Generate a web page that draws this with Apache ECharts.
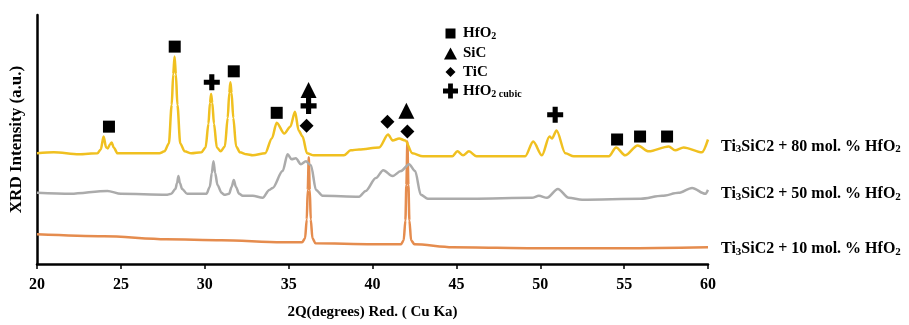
<!DOCTYPE html>
<html>
<head>
<meta charset="utf-8">
<script src="https://cdn.jsdelivr.net/npm/echarts@6/dist/echarts.min.js"></script>
<style>
  html, body { margin: 0; padding: 0; background: #fff; }
  #chart { width: 909px; height: 325px; }
</style>
</head>
<body>
<div id="chart"></div>
<script>
// 2θ ticks
const xTicks = [20, 25, 30, 35, 40, 45, 50, 55, 60];

// Ti3SiC2 + 80 mol.% HfO2  [2θ, intensity]
const hfo80 = [
  [20, 112], [21, 113], [22.5, 111], [23.6, 112], [23.8, 116], [23.97, 129], [24.12, 118], [24.22, 117],
  [24.35, 121], [24.45, 123], [24.57, 118], [24.8, 112],
  [26, 112], [27.3, 112], [27.6, 114], [27.86, 122], [28.03, 161], [28.12, 192], [28.2, 210], [28.28, 192],
  [28.37, 161], [28.54, 122], [28.8, 114], [29.2, 112],
  [29.8, 113], [30.05, 118], [30.22, 142], [30.31, 163], [30.38, 172], [30.45, 163], [30.55, 142], [30.72, 118],
  [30.95, 114], [31.2, 119], [31.37, 148], [31.46, 173], [31.53, 184], [31.6, 173], [31.7, 148], [31.87, 119],
  [32.1, 113], [32.5, 111], [32.86, 110], [33.6, 112], [34.0, 127], [34.29, 143], [34.74, 132],
  [35.1, 139], [35.38, 154], [35.6, 135], [35.83, 129], [36.1, 112], [36.5, 110], [38.3, 110], [38.7, 115],
  [39.2, 116], [40.4, 118], [40.93, 131], [41.2, 125], [41.59, 127], [41.95, 125], [42.38, 112], [43, 109],
  [44.76, 109], [45.06, 114], [45.4, 110], [45.75, 114], [46.2, 109], [49.1, 109], [49.58, 124], [50.1, 110],
  [50.55, 129], [50.7, 127], [50.97, 135], [51.5, 112], [52, 109], [54.09, 109], [54.52, 118], [55.06, 110],
  [55.81, 120], [56.47, 114], [57.66, 119], [58.04, 115], [58.55, 118], [59.64, 113], [60, 126]
];

// Ti3SiC2 + 50 mol.% HfO2
const hfo50 = [
  [20, 72], [22, 71], [24.2, 74], [25, 71], [27.7, 70], [28.0, 71], [28.25, 76], [28.35, 82], [28.43, 89],
  [28.52, 82], [28.65, 76], [28.95, 71], [30.1, 71], [30.3, 78], [30.42, 92], [30.52, 104], [30.62, 92],
  [30.76, 80], [31.0, 72], [31.17, 70], [31.45, 71], [31.6, 78], [31.73, 85], [31.86, 78], [32.05, 71],
  [32.26, 69], [32.86, 69], [33.45, 67], [33.85, 75], [34.05, 77], [34.64, 94], [34.94, 111], [35.18, 106],
  [35.43, 107], [35.73, 101], [36.03, 104], [36.33, 100], [36.63, 75], [37.02, 69], [39.2, 68], [39.6, 74],
  [40.2, 87], [40.64, 95], [41.19, 89], [41.69, 94], [42.18, 101], [42.54, 94], [42.88, 70], [43.3, 66],
  [45.95, 66], [49.5, 67], [49.92, 69], [50.4, 67], [51.05, 76], [51.7, 67], [52.5, 65], [56, 66],
  [57.26, 69], [58.25, 72], [59.05, 77], [59.84, 71], [60, 75]
];

// Ti3SiC2 + 10 mol.% HfO2
const hfo10 = [
  [20, 30], [24, 28], [27.7, 25], [31, 24], [34.6, 22], [35.8, 22], [35.98, 26], [36.08, 45], [36.14, 75],
  [36.2, 108], [36.26, 75], [36.32, 45], [36.42, 26], [36.6, 21], [40, 20], [41.7, 20], [41.86, 24],
  [41.96, 44], [42.02, 80], [42.08, 124], [42.14, 80], [42.2, 44], [42.3, 24], [42.5, 20], [44.76, 17],
  [50, 16], [55, 16], [60, 17]
];

// phase markers [2θ, height]
const hfo2Marks = [[24.29, 139], [28.21, 220], [31.73, 195], [34.29, 153], [54.58, 126], [55.95, 129], [57.56, 129]];
const sicMarks = [[36.19, 176], [42.02, 155]];
const ticMarks = [[36.07, 140], [40.89, 144], [42.08, 134]];
const cubicMarks = [[30.42, 184], [36.19, 160], [50.89, 151]];

const serif = '"Liberation Serif", "Times New Roman", serif';
const crossPath = 'path://M3.4,0 H6.6 V3.4 H10 V6.6 H6.6 V10 H3.4 V6.6 H0 V3.4 H3.4 Z';

const subRich = {
  a: { fontFamily: serif, fontSize: 16, fontWeight: 'bold', color: '#000' },
  s: { fontFamily: serif, fontSize: 11, fontWeight: 'bold', color: '#000', padding: [6, 0, 0, 0] }
};

function lineSeries(name, data, color, label, dy) {
  return {
    name: name,
    type: 'line',
    data: data,
    showSymbol: false,
    smooth: 0.3,
    smoothMonotone: 'x',
    lineStyle: { color: color, width: 2.5 },
    itemStyle: { color: color },
    endLabel: {
      show: true,
      formatter: label,
      offset: [5, dy],
      rich: subRich
    },
    z: 2
  };
}

function markSeries(name, data, symbol, size) {
  return {
    name: name,
    type: 'scatter',
    data: data,
    symbol: symbol,
    symbolSize: size,
    itemStyle: { color: '#000', opacity: 1 },
    z: 5
  };
}

const chart = echarts.init(document.getElementById('chart'));
chart.setOption({
  animation: false,
  backgroundColor: '#fff',
  grid: { left: 34, right: 201, top: 15, bottom: 58 },
  legend: {
    orient: 'vertical',
    left: 438,
    top: 21,
    itemGap: 4,
    itemWidth: 15,
    itemHeight: 15,
    data: [
      { name: 'HfO2', icon: 'path://M0,0 M2.5,2.5 H12.5 V12.5 H2.5 Z M15,15' },
      { name: 'SiC', icon: 'path://M0,0 M7.5,2 L14,14 H1 Z M15,15' },
      { name: 'TiC', icon: 'path://M0,0 M7.5,2.5 L12.5,7.5 L7.5,12.5 L2.5,7.5 Z M15,15' },
      { name: 'HfO2 cubic', icon: crossPath }
    ],
    formatter: function (n) {
      if (n === 'HfO2') return '{a|HfO}{s|2}';
      if (n === 'HfO2 cubic') return '{a|HfO}{s|2 cubic}';
      return '{a|' + n + '}';
    },
    textStyle: {
      rich: {
        a: { fontFamily: serif, fontSize: 15, fontWeight: 'bold', color: '#000' },
        s: { fontFamily: serif, fontSize: 10, fontWeight: 'bold', color: '#000', padding: [6, 0, 0, 0] }
      }
    }
  },
  xAxis: {
    type: 'value',
    min: xTicks[0],
    max: xTicks[xTicks.length - 1],
    interval: 5,
    name: '2Q(degrees) Red. ( Cu Ka)',
    nameLocation: 'middle',
    nameGap: 41,
    nameTextStyle: { fontFamily: serif, fontSize: 15, fontWeight: 'bold', color: '#000' },
    axisLine: { lineStyle: { color: '#000', width: 2.5 } },
    axisTick: { show: true, length: 5, lineStyle: { color: '#000', width: 1.5 } },
    axisLabel: { fontFamily: serif, fontSize: 16, fontWeight: 'bold', color: '#000', margin: 13 },
    splitLine: { show: false }
  },
  yAxis: {
    type: 'value',
    min: 0,
    max: 252,
    name: 'XRD Intensity (a.u.)',
    nameLocation: 'middle',
    nameGap: 12,
    nameTextStyle: { fontFamily: serif, fontSize: 17, fontWeight: 'bold', color: '#000' },
    axisLine: { show: true, lineStyle: { color: '#000', width: 2.5 } },
    axisTick: { show: false },
    axisLabel: { show: false },
    splitLine: { show: false }
  },
  series: [
    lineSeries('Ti3SiC2 + 10 mol. % HfO2', hfo10, '#E58C4E', '{a|Ti}{s|3}{a|SiC2 + 10 mol. % HfO}{s|2}', 2),
    lineSeries('Ti3SiC2 + 50 mol. % HfO2', hfo50, '#ABABAB', '{a|Ti}{s|3}{a|SiC2 + 50 mol. % HfO}{s|2}', 4),
    lineSeries('Ti3SiC2 + 80 mol. % HfO2', hfo80, '#F0C020', '{a|Ti}{s|3}{a|SiC2 + 80 mol. % HfO}{s|2}', 7),
    markSeries('HfO2', hfo2Marks, 'rect', 12),
    markSeries('SiC', sicMarks, 'triangle', 16),
    markSeries('TiC', ticMarks, 'diamond', 14),
    markSeries('HfO2 cubic', cubicMarks, crossPath, 16)
  ]
});
</script>
</body>
</html>
